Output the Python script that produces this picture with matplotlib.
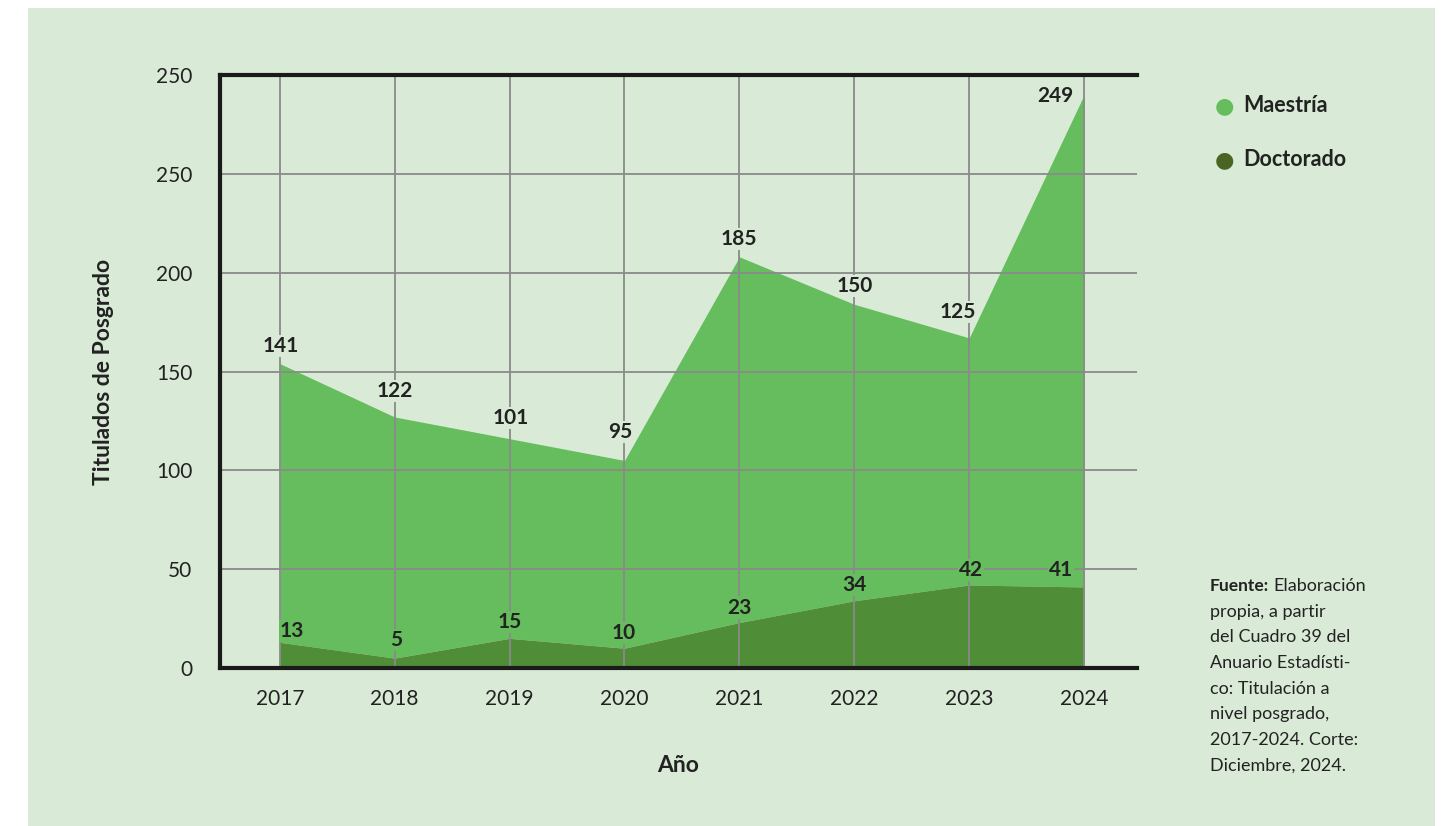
import matplotlib
matplotlib.use("Agg")
import matplotlib.pyplot as plt
from matplotlib.patches import Rectangle
import numpy as np

years = [2017, 2018, 2019, 2020, 2021, 2022, 2023, 2024]
maestria = [141, 122, 101, 95, 185, 150, 125, 249]
doctorado = [13, 5, 15, 10, 23, 34, 42, 41]
ytick_vals = [0, 50, 100, 150, 200, 250, 300]
ytick_labels = ["0", "50", "100", "150", "200", "250", "250"]
source_lines = ["propia, a partir", "del Cuadro 39 del", "Anuario Estadísti-",
                "co: Titulación a", "nivel posgrado,", "2017-2024. Corte:",
                "Diciembre, 2024."]

# label placement offsets (pixels: dx right, dy up from the point)
mae_dx = [1, 0, 1, -4, -1, 0, -11.5, -28.5]
mae_dy = [19.5, 27, 22.5, 30, 19.5, 19.5, 27.5, 0]
doc_dx = [12.5, 1, 0, -0.5, 0, 0, 1.5, -23]
doc_dy = [12.5, 20, 17.5, 16.5, 16.5, 17, 16.5, 18.5]

FONT = "Lato"
TXT = "#222222"
BG = "#d9ebd6"
C_MAE = "#66bd5d"
C_DOC = "#4f8d37"
C_DOC_LEG = "#4a6424"
PX = 72 / 100.0
LFS = 15
CAP = 0.717 * LFS / PX  # cap height in px

fig = plt.figure(figsize=(14.45, 8.26), dpi=100, facecolor="white")
bgrect = Rectangle((28/1445, 0), (1435-28)/1445, 1-8/826,
                   transform=fig.transFigure, facecolor=BG,
                   edgecolor="none", zorder=-10)
fig.add_artist(bgrect)

ax = fig.add_axes([220/1445, 1-668/826, (1137-220)/1445, (668-75)/826])
ax.set_facecolor("none")
ax.set_zorder(1)

x = np.array(years)
doc = np.array(doctorado)
top = doc + np.array(maestria)
ax.fill_between(x, doc, top, color=C_MAE, lw=0, zorder=1)
ax.fill_between(x, 0, doc, color=C_DOC, lw=0, zorder=1)

ax.set_xlim(2016.48, 2024.46)
ax.set_ylim(0, 300)
ax.set_xticks(years)
ax.set_xticklabels([str(y) for y in years], fontfamily=FONT, fontsize=15, color=TXT)
ax.set_yticks(ytick_vals)
ax.set_yticklabels(ytick_labels, fontfamily=FONT, fontsize=15, color=TXT)
ax.tick_params(length=0)
ax.tick_params(axis="x", pad=15)
ax.tick_params(axis="y", pad=20)
ax.grid(True, color="#8a8a8a", lw=1.3, zorder=2)
ax.set_axisbelow(False)
ax.spines["right"].set_visible(False)
for s in ["top", "bottom", "left"]:
    ax.spines[s].set_linewidth(3)
    ax.spines[s].set_color("#1a1a1a")
    ax.spines[s].set_zorder(5)

# labels
for i, (yr, m, d, t) in enumerate(zip(years, maestria, doctorado, top)):
    ax.annotate(str(m), (yr, t),
                xytext=(mae_dx[i]*PX, (mae_dy[i] - CAP/2)*PX),
                textcoords="offset points", ha="center", va="baseline",
                fontsize=LFS, fontweight="bold", fontfamily=FONT, color=TXT,
                zorder=6, bbox=dict(boxstyle="square,pad=0.05", fc=BG, ec="none"))
    ax.annotate(str(d), (yr, d),
                xytext=(doc_dx[i]*PX, (doc_dy[i] - CAP/2)*PX),
                textcoords="offset points", ha="center", va="baseline",
                fontsize=LFS, fontweight="bold", fontfamily=FONT, color=TXT,
                zorder=6, bbox=dict(boxstyle="square,pad=0.05", fc=C_MAE, ec="none"))

ax.set_ylabel("Titulados de Posgrado", fontfamily=FONT, fontsize=16.5,
              fontweight="bold", color=TXT, labelpad=30)
ax.set_xlabel("Año", fontfamily=FONT, fontsize=16.5, fontweight="bold",
              color=TXT, labelpad=33)

# legend
for yy, lab, col in [(106, "Maestría", C_MAE), (160, "Doctorado", C_DOC_LEG)]:
    fig.text(1224/1445, 1-yy/826, "●", color=col, fontsize=16, ha="center",
             va="center", fontfamily="DejaVu Sans")
    fig.text(1243/1445, 1-yy/826, lab, color=TXT, fontsize=15.5, fontweight="bold",
             ha="left", va="center", fontfamily=FONT)

# source note
x0 = 1210/1445
y0 = 1-586/826
t1 = fig.text(x0, y0, "Fuente:", fontsize=12.5, fontweight="bold", color=TXT,
              fontfamily=FONT, ha="left", va="center")
r = fig.canvas.get_renderer()
bb = t1.get_window_extent(r)
fig.text((bb.x1 + 4)/1445, y0, "Elaboración", fontsize=13, color=TXT,
         fontfamily=FONT, ha="left", va="center")
for k, line in enumerate(source_lines):
    fig.text(x0, 1-(586 + 25.7*(k+1))/826, line, fontsize=13, color=TXT,
             fontfamily=FONT, ha="left", va="center")

fig.savefig("out.png", dpi=100, facecolor="white")
